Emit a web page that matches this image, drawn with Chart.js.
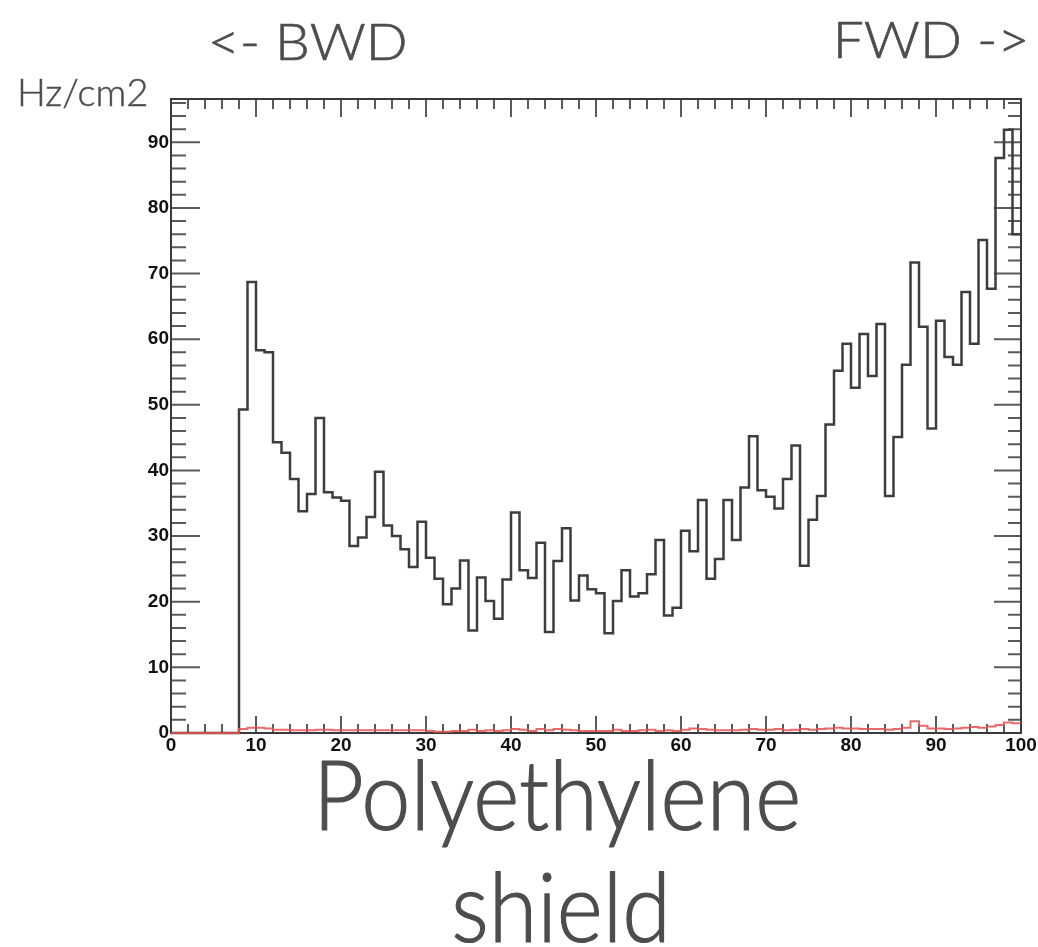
<!DOCTYPE html>
<html>
<head>
<meta charset="utf-8">
<title>Polyethylene shield</title>
<script src="https://cdn.jsdelivr.net/npm/chart.js@4.4.1/dist/chart.umd.min.js"></script>
<style>
  html, body { margin: 0; padding: 0; background: #fff; }
  #wrap { position: relative; width: 1038px; height: 947px; }
</style>
</head>
<body>
<div id="wrap"><canvas id="chartShield"></canvas></div>
<script>
// ? Histogram binning (1 unit per bin, from 0 to 100)
const X_MIN = 0;
const BIN_WIDTH = 1;

// ? Black histogram - rate per bin (Hz/cm2), bins 0..99
const rateValues = [
  0, 0, 0, 0, 0, 0, 0, 0, 49.3, 68.7,
  58.3, 58.0, 44.3, 42.7, 38.7, 33.8, 36.4, 48.0, 36.7, 35.9,
  35.4, 28.5, 29.8, 32.9, 39.8, 31.6, 30.0, 28.0, 25.3, 32.2,
  26.7, 23.5, 19.6, 22.0, 26.3, 15.6, 23.7, 20.1, 17.4, 23.4,
  33.6, 24.8, 23.6, 29.0, 15.4, 26.2, 31.2, 20.2, 24.0, 21.9,
  21.3, 15.2, 20.1, 24.8, 20.8, 21.3, 24.2, 29.4, 17.9, 19.1,
  30.8, 27.7, 35.5, 23.5, 26.5, 35.5, 29.4, 37.4, 45.2, 37.0,
  36.0, 34.2, 38.7, 43.8, 25.5, 32.5, 36.1, 47.0, 55.2, 59.3,
  52.6, 60.8, 54.4, 62.3, 36.1, 45.1, 56.1, 71.7, 61.9, 46.4,
  62.8, 57.3, 56.1, 67.2, 59.3, 75.1, 67.7, 87.6, 91.9, 76.0
];

// ? Red histogram - with shield, bins 0..99
const shieldValues = [
  0, 0, 0, 0, 0, 0, 0, 0, 0.6, 0.8,
  0.8, 0.7, 0.5, 0.5, 0.4, 0.4, 0.4, 0.5, 0.5, 0.4,
  0.4, 0.4, 0.4, 0.4, 0.4, 0.4, 0.4, 0.4, 0.4, 0.4,
  0.3, 0.2, 0.2, 0.3, 0.3, 0.5, 0.3, 0.4, 0.3, 0.4,
  0.6, 0.5, 0.3, 0.6, 0.4, 0.6, 0.5, 0.4, 0.3, 0.3,
  0.3, 0.3, 0.5, 0.3, 0.3, 0.4, 0.5, 0.3, 0.4, 0.3,
  0.5, 0.7, 0.6, 0.5, 0.4, 0.4, 0.4, 0.5, 0.6, 0.5,
  0.5, 0.6, 0.4, 0.5, 0.6, 0.5, 0.6, 0.7, 0.8, 0.7,
  0.7, 0.6, 0.6, 0.6, 0.5, 0.6, 0.8, 1.8, 1.1, 0.7,
  0.7, 0.6, 0.7, 0.8, 0.9, 0.8, 1.0, 1.2, 1.6, 1.5
];

// ? Axis ticks
const xTickValues = [0, 10, 20, 30, 40, 50, 60, 70, 80, 90, 100];
const yTickValues = [0, 10, 20, 30, 40, 50, 60, 70, 80, 90];
const X_MAX = 100;
const Y_MAX = 96.6;
const MINOR_STEP = 2;

// ? Texts around the frame
const annotations = [
  { text: "<- BWD", size: 52, left: 212, right: 405, baseline: 60 },
  { text: "FWD ->", size: 52, left: 838, right: 1025, baseline: 58 },
  { text: "Hz/cm2", size: 37, left: 20, right: 147, baseline: 106 },
  { text: "Polyethylene", size: 97, left: 322, right: 797, baseline: 830 },
  { text: "shield", size: 97, left: 455, right: 664, baseline: 942 },
];

// each bin becomes two points (low edge, high edge) -> ROOT-like step outline
function histPoints(values) {
  const pts = [];
  values.forEach((v, i) => {
    const lo = X_MIN + i * BIN_WIDTH;
    pts.push({ x: lo, y: v });
    pts.push({ x: lo + BIN_WIDTH, y: v });
  });
  return pts;
}

// ? Frame with inward ticks on all four sides (ROOT style)
const rootFramePlugin = {
  id: "rootFrame",
  beforeDatasetsDraw(chart) {
    const { ctx, chartArea: a, scales } = chart;
    const x = scales.x, y = scales.y;
    ctx.save();
    ctx.lineWidth = 2;
    ctx.strokeStyle = "#5a5a5a";
    ctx.beginPath();
    for (let v = 0; v <= X_MAX; v += MINOR_STEP) {
      const px = x.getPixelForValue(v);
      const major = xTickValues.includes(v);
      const lb = major ? 17 : 9;
      const lt = major ? 18 : 10;
      ctx.moveTo(px, a.bottom); ctx.lineTo(px, a.bottom - lb);
      ctx.moveTo(px, a.top); ctx.lineTo(px, a.top + lt);
    }
    for (let v = 0; v <= Y_MAX; v += MINOR_STEP) {
      const py = y.getPixelForValue(v);
      const major = yTickValues.includes(v);
      const ll = major ? 29 : 15;
      const lr = major ? 27 : 13;
      ctx.moveTo(a.left, py); ctx.lineTo(a.left + ll, py);
      ctx.moveTo(a.right, py); ctx.lineTo(a.right - lr, py);
    }
    ctx.stroke();
    ctx.strokeStyle = "#3a3a3a";
    ctx.strokeRect(a.left, a.top, a.right - a.left, a.bottom - a.top);
    ctx.restore();
  },
};

// ? Big light labels (BWD / FWD / units / caption)
const annotationPlugin = {
  id: "annotations",
  afterDraw(chart) {
    const ctx = chart.ctx;
    annotations.forEach((t) => {
      ctx.save();
      ctx.font = `300 ${t.size}px Lato, "Open Sans", sans-serif`;
      ctx.fillStyle = "#4d4d4d";
      ctx.strokeStyle = "#4d4d4d";
      ctx.lineWidth = t.size / 80;
      ctx.lineJoin = "round";
      ctx.textBaseline = "alphabetic";
      const m = ctx.measureText(t.text);
      const inkW = m.actualBoundingBoxLeft + m.actualBoundingBoxRight;
      const sx = (t.right - t.left) / inkW;
      ctx.translate(t.left + m.actualBoundingBoxLeft * sx, t.baseline);
      ctx.scale(sx, 1);
      ctx.fillText(t.text, 0, 0);
      ctx.strokeText(t.text, 0, 0);
      ctx.restore();
    });
  },
};

const tickFont = { family: '"Liberation Sans", Arial, sans-serif', size: 19, weight: "bold" };

const ctxShield = document.getElementById("chartShield").getContext("2d");
const chartShield = new Chart(ctxShield, {
  type: "line",
  data: {
    datasets: [
      {
        label: "no shield",
        data: histPoints(rateValues),
        borderColor: "#3d3d3d",
        borderWidth: 2.5,
        pointRadius: 0,
        tension: 0,
        fill: false,
        clip: 6,
        order: 2,
      },
      {
        label: "Polyethylene shield",
        data: histPoints(shieldValues),
        borderColor: "rgba(228, 80, 80, 0.85)",
        borderWidth: 2,
        pointRadius: 0,
        tension: 0,
        fill: false,
        clip: 6,
        order: 1,
      },
    ],
  },
  options: {
    responsive: true,
    maintainAspectRatio: false,
    animation: false,
    events: [],
    layout: { padding: { top: 99, right: 17, left: 0, bottom: 0 } },
    plugins: {
      legend: { display: false },
      tooltip: { enabled: false },
      title: { display: false },
    },
    scales: {
      x: {
        type: "linear",
        min: X_MIN,
        max: X_MAX,
        grid: { display: false, drawTicks: false },
        border: { display: false },
        afterFit(scale) { scale.height = 214; },
        afterBuildTicks(scale) { scale.ticks = xTickValues.map((v) => ({ value: v })); },
        ticks: {
          autoSkip: false,
          maxRotation: 0,
          padding: 1,
          color: "#111",
          font: tickFont,
        },
      },
      y: {
        type: "linear",
        min: 0,
        max: Y_MAX,
        grid: { display: false, drawTicks: false },
        border: { display: false },
        afterFit(scale) { scale.width = 171; },
        afterBuildTicks(scale) { scale.ticks = yTickValues.map((v) => ({ value: v })); },
        ticks: {
          autoSkip: false,
          padding: 2,
          color: "#111",
          font: tickFont,
        },
      },
    },
  },
  plugins: [rootFramePlugin, annotationPlugin],
});
</script>
</body>
</html>
